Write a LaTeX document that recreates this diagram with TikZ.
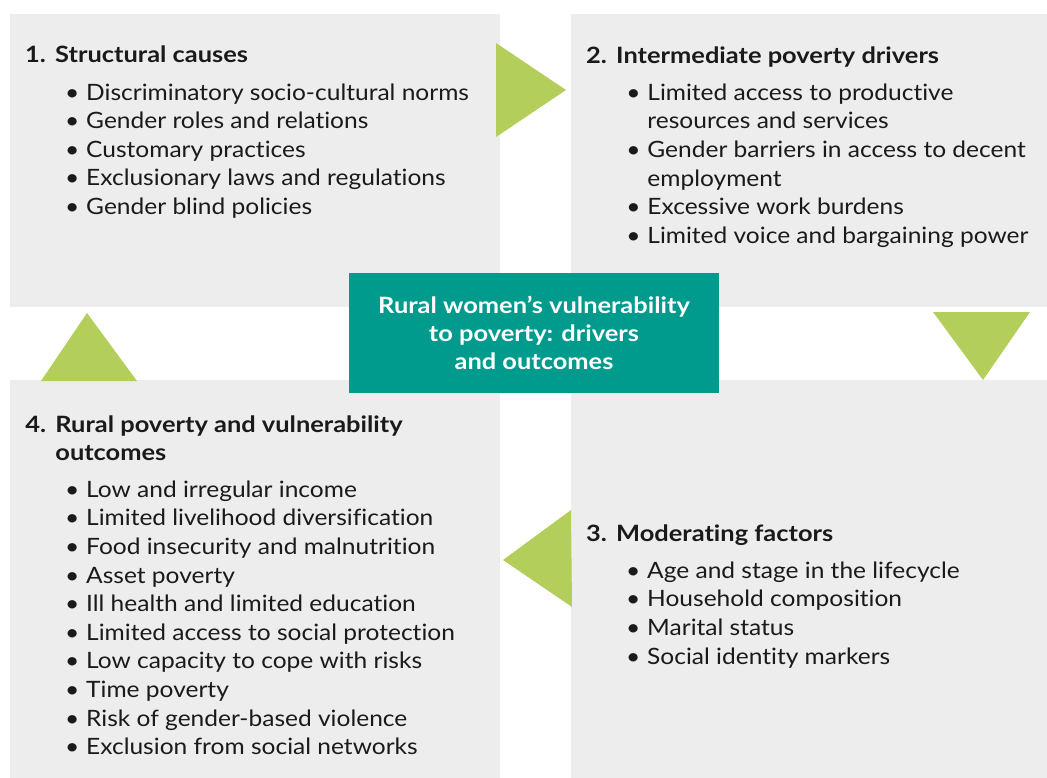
\documentclass[tikz,border=0pt]{standalone}
\usepackage{fontspec}
\setmainfont{Lato}[FakeStretch=1.09,Ligatures=NoCommon]
\newfontfamily\headfont{Lato}[FakeStretch=1.13,Ligatures=NoCommon]
\usetikzlibrary{matrix}
\usetikzlibrary{positioning}

\definecolor{panelgray}{HTML}{EDEDED}
\definecolor{hubteal}{HTML}{009B8C}
\definecolor{leafgreen}{HTML}{B3CE5A}
\definecolor{inkblack}{HTML}{1A1A1A}

\newcommand{\itemfont}{\fontsize{22.5}{28.6}\selectfont}

\begin{document}
\begin{tikzpicture}[x=1pt,y=-1pt,
    panel/.style={fill=panelgray,inner sep=0pt,anchor=north west},
    marker/.style={fill=leafgreen},
    list/.style={matrix of nodes,anchor=north west,inner sep=0pt,
      row sep=6.6pt,column sep=0pt,
      nodes={anchor=base west,inner sep=0pt,text height=16pt,text depth=6pt,
        font=\itemfont,text=inkblack},
      column 1/.style={nodes={text width=21pt}}},
    heading/.style={list,nodes={font=\itemfont\headfont\bfseries},
      column 1/.style={nodes={text width=30pt}}},
    hub/.style={fill=hubteal,inner sep=0pt,minimum width=370pt,minimum height=120pt,
      text=white,align=center,font=\fontsize{22.5}{28}\selectfont\headfont\bfseries}]

  \useasboundingbox (0,0) rectangle (1047,778);

  % the four panels
  \node [panel,minimum width=490pt,minimum height=293pt] (panel1) at (10,14) {};
  \node [panel,minimum width=476pt,minimum height=293pt] (panel2) at (571,14) {};
  \node [panel,minimum width=476pt,minimum height=398pt] (panel3) at (571,380) {};
  \node [panel,minimum width=490pt,minimum height=398pt] (panel4) at (10,380) {};

  % arrow heads between the panels
  \fill [marker] (496,43) -- (566,90) -- (496,137) -- cycle;
  \fill [marker] (933,312) -- (1030,312) -- (983,380) -- cycle;
  \fill [marker] (571,510) -- (503,560) -- (572,607) -- cycle;
  \fill [marker] (41,381) -- (87,313) -- (137,381) -- cycle;

  % 1
  \matrix (head1) [heading] at (25,46) {
    1. & Structural causes \\
  };
  \matrix (causes) [list] at (65,84) {
    \textbullet & Discriminatory socio-cultural norms \\
    \textbullet & Gender roles and relations \\
    \textbullet & Customary practices \\
    \textbullet & Exclusionary laws and regulations \\
    \textbullet & Gender blind policies \\
  };

  % 2
  \matrix (head2) [heading] at (586,47) {
    2. & Intermediate poverty drivers \\
  };
  \matrix (drivers) [list] at (626,84) {
    \textbullet & Limited access to productive \\
                & resources and services \\
    \textbullet & Gender barriers in access to decent \\
                & employment \\
    \textbullet & Excessive work burdens \\
    \textbullet & Limited voice and bargaining power \\
  };

  % 3
  \matrix (head3) [heading] at (586,525) {
    3. & Moderating factors \\
  };
  \matrix (factors) [list] at (626,562) {
    \textbullet & Age and stage in the lifecycle \\
    \textbullet & Household composition \\
    \textbullet & Marital status \\
    \textbullet & Social identity markers \\
  };

  % 4
  \matrix (head4) [heading] at (25,416) {
    4. & Rural poverty and vulnerability \\
       & outcomes \\
  };
  \matrix (outcomes) [list] at (65,481) {
    \textbullet & Low and irregular income \\
    \textbullet & Limited livelihood diversification \\
    \textbullet & Food insecurity and malnutrition \\
    \textbullet & Asset poverty \\
    \textbullet & Ill health and limited education \\
    \textbullet & Limited access to social protection \\
    \textbullet & Low capacity to cope with risks \\
    \textbullet & Time poverty \\
    \textbullet & Risk of gender-based violence \\
    \textbullet & Exclusion from social networks \\
  };

  % centre
  \node [hub] (hub) at (534,333) {Rural women’s vulnerability\\to poverty: drivers\\and outcomes};

\end{tikzpicture}
\end{document}
